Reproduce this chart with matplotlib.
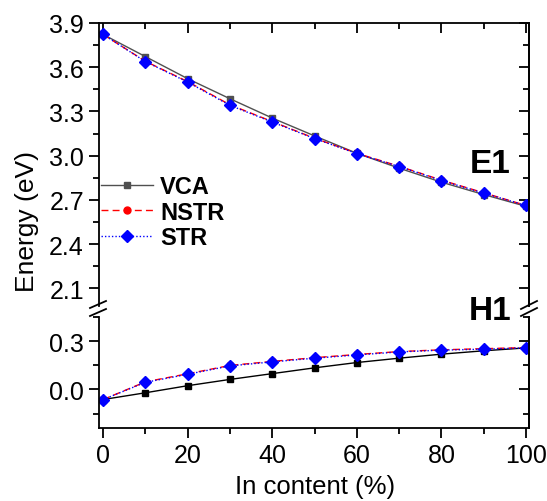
import matplotlib
matplotlib.use("Agg")
import matplotlib.pyplot as plt
from matplotlib.lines import Line2D
from matplotlib.ticker import MultipleLocator

plt.rcParams["font.family"] = ["Liberation Sans", "DejaVu Sans"]

# In content (%)
x = [0, 10, 20, 30, 40, 50, 60, 70, 80, 90, 100]

# E1 energies (eV)
e1_vca = [3.822, 3.672, 3.522, 3.386, 3.255, 3.134, 3.016, 2.915, 2.820, 2.736, 2.656]
e1_nstr = [3.822, 3.640, 3.502, 3.345, 3.231, 3.118, 3.016, 2.928, 2.834, 2.748, 2.662]
e1_str = [3.822, 3.638, 3.499, 3.341, 3.228, 3.116, 3.014, 2.926, 2.831, 2.746, 2.662]

# H1 energies (eV)
h1_vca = [-0.063, -0.021, 0.023, 0.062, 0.098, 0.134, 0.167, 0.194, 0.219, 0.240, 0.258]
h1_nstr = [-0.063, 0.047, 0.097, 0.149, 0.174, 0.197, 0.217, 0.235, 0.246, 0.253, 0.260]
h1_str = [-0.063, 0.044, 0.094, 0.146, 0.171, 0.194, 0.214, 0.233, 0.244, 0.250, 0.258]

W, H = 547, 502
fig = plt.figure(figsize=(W / 100, H / 100), dpi=100)

left, right = 98.5, 529
ax_top = fig.add_axes([left / W, 1 - 307 / H, (right - left) / W, (307 - 24) / H])
ax_bot = fig.add_axes([left / W, 1 - 429 / H, (right - left) / W, (429 - 318) / H])

tick_fs = 18
for ax in (ax_top, ax_bot):
    ax.set_xlim(-1.1, 100.7)
    ax.xaxis.set_major_locator(MultipleLocator(20))
    ax.xaxis.set_minor_locator(MultipleLocator(10))
    ax.yaxis.set_major_locator(MultipleLocator(0.3))
    ax.yaxis.set_minor_locator(MultipleLocator(0.15))
    for s in ax.spines.values():
        s.set_linewidth(1.3)
    ax.tick_params(which="both", width=1.3, labelsize=tick_fs)
    ax.tick_params(which="major", length=7)
    ax.tick_params(which="minor", length=4)
    ax.tick_params(axis="y", which="both", left=True, right=False, direction="out")

# broken axis: hide inner spines
ax_top.spines["bottom"].set_visible(False)
ax_bot.spines["top"].set_visible(False)
ax_top.tick_params(axis="x", which="both", bottom=False, top=True, labelbottom=False,
                   direction="in")
ax_bot.tick_params(axis="x", which="both", bottom=True, top=False, direction="out")

# right side inward ticks
for ax in (ax_top, ax_bot):
    ry = ax.secondary_yaxis("right")
    ry.yaxis.set_major_locator(MultipleLocator(0.3))
    ry.yaxis.set_minor_locator(MultipleLocator(0.15))
    ry.tick_params(which="both", direction="in", width=1.3, labelright=False)
    ry.tick_params(which="major", length=7)
    ry.tick_params(which="minor", length=4)
    ry.spines["right"].set_linewidth(1.3)

ax_top.set_ylim(1.98, 3.9)
ax_bot.set_ylim(-0.24, 0.45)

vca_top = "#505050"
ax_top.plot(x, e1_vca, color=vca_top, lw=1, ls="-", marker="s", ms=4.5, label="VCA")
ax_top.plot(x, e1_nstr, color="red", lw=1, ls=(0, (5, 3)), marker="o", ms=5, label="NSTR")
ax_top.plot(x, e1_str, color="blue", lw=1, ls=(0, (1, 1.5)), marker="D", ms=6, label="STR")

ax_bot.plot(x, h1_vca, color="black", lw=1, ls="-", marker="s", ms=4.5)
ax_bot.plot(x, h1_nstr, color="red", lw=1, ls=(0, (5, 3)), marker="o", ms=5)
ax_bot.plot(x, h1_str, color="blue", lw=1, ls=(0, (1, 1.5)), marker="D", ms=6)

ax_top.set_yticklabels([f"{v:.1f}" for v in ax_top.get_yticks()])
ax_bot.set_yticklabels([f"{v:.1f}" for v in ax_bot.get_yticks()])

leg = ax_top.legend(loc="upper left", bbox_to_anchor=(0.0, 0.47), frameon=False,
                    prop={"weight": "bold", "size": 17}, handlelength=2.2,
                    handletextpad=0.3, labelspacing=0.1, borderaxespad=0.0,
                    borderpad=0.1)

ax_top.text(490 / W, 1 - 165 / H, "E1", transform=fig.transFigure, fontsize=24,
            fontweight="bold", ha="center", va="center")
ax_bot.text(490 / W, 1 - 312 / H, "H1", transform=fig.transFigure, fontsize=24,
            fontweight="bold", ha="center", va="center")

fig.text(27 / W, 1 - 222 / H, "Energy (eV)", rotation=90, fontsize=19,
         ha="center", va="center")
fig.text(315 / W, 1 - 487 / H, "In content (%)", fontsize=18.5, ha="center",
         va="center")

# axis break marks
for (xa, ya, xb, yb) in [(90, 309, 106, 302), (90, 317, 106, 310),
                         (521, 310, 537, 302), (521, 317, 537, 309)]:
    fig.add_artist(Line2D([xa / W, xb / W], [1 - ya / H, 1 - yb / H],
                          transform=fig.transFigure, color="black", lw=1.3))

fig.savefig("out.png", dpi=100)
